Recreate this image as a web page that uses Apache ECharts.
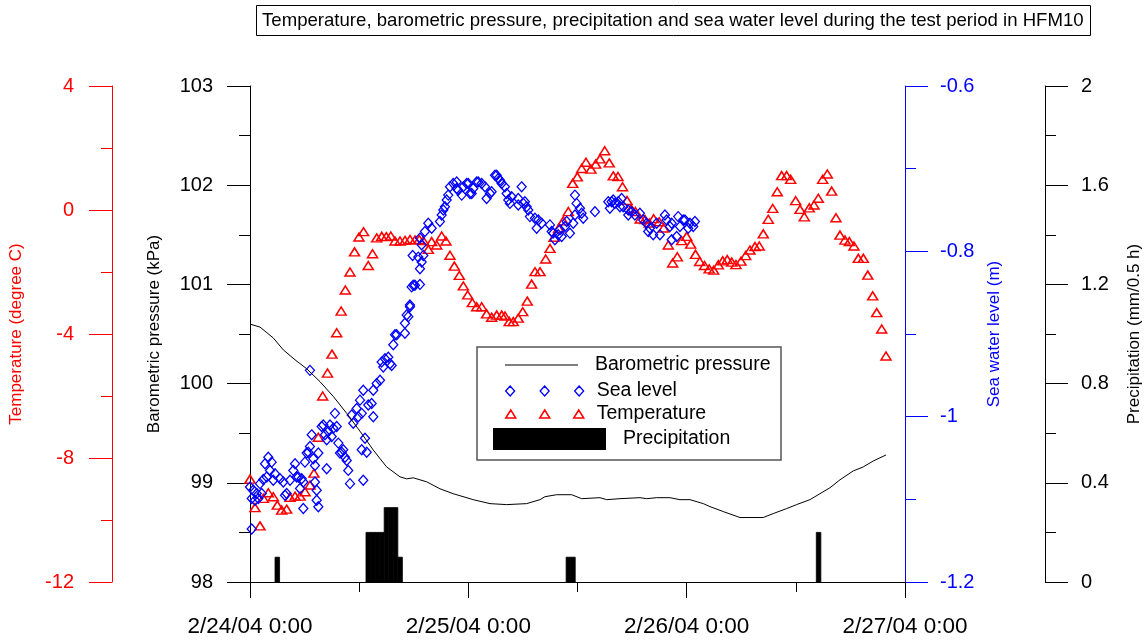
<!DOCTYPE html>
<html><head><meta charset="utf-8">
<script src="https://cdn.jsdelivr.net/npm/echarts@6/dist/echarts.min.js"></script>
<style>html,body{margin:0;padding:0;background:#fff}#c{width:1148px;height:640px}</style>
</head><body><div id="c"></div>
<script>
// x values are hours after 2/24/04 0:00
const xTickLabels = ['2/24/04 0:00', '2/25/04 0:00', '2/26/04 0:00', '2/27/04 0:00'];

// Barometric pressure (kPa): [hour, value]
const pressureData = [
  [0,100.60],[1.10,100.57],[2.56,100.46],[3.66,100.34],[4.95,100.24],[6.23,100.15],[7.69,100.02],
  [9.16,99.87],[10.63,99.70],[12.09,99.52],[13.55,99.33],[15.02,99.16],[16.49,99.06],[17.22,99.04],
  [17.95,99.05],[19.42,99.01],[20.88,98.94],[22.34,98.89],[24.54,98.83],[26.38,98.79],[28.21,98.78],
  [30.41,98.79],[31.87,98.83],[32.42,98.86],[33.71,98.88],[35.36,98.88],[36.46,98.84],[38.47,98.85],
  [39.21,98.83],[40.67,98.84],[42.86,98.85],[43.60,98.84],[44.70,98.85],[46.16,98.85],[47.26,98.83],
  [48.36,98.83],[49.83,98.79],[50.56,98.76],[52.02,98.71],[53.86,98.65],[56.42,98.65],[57.52,98.69],
  [58.99,98.74],[60.08,98.78],[61.55,98.83],[62.65,98.89],[63.75,98.95],[64.85,99.03],[66.31,99.12],
  [67.41,99.16],[68.51,99.22],[69.90,99.28]
];

// Sea water level (m): [hour, value]
const seaLevelData = [
  [0.00,-1.085],[0.19,-1.136],[0.19,-1.099],[0.36,-1.089],[0.55,-1.101],[0.74,-1.093],[0.91,-1.099],
  [1.10,-1.081],[1.29,-1.093],[1.46,-1.076],[1.65,-1.057],[1.84,-1.073],[2.01,-1.049],[2.20,-1.065],
  [2.38,-1.055],[2.56,-1.077],[2.75,-1.069],[3.30,-1.075],[3.66,-1.079],[3.85,-1.095],[4.03,-1.093],
  [4.40,-1.077],[4.76,-1.065],[4.95,-1.057],[5.13,-1.073],[5.31,-1.073],[5.50,-1.087],[5.68,-1.075],
  [5.86,-1.079],[5.86,-1.111],[6.04,-1.055],[6.23,-1.044],[6.41,-1.043],[6.59,-1.036],[6.59,-0.944],
  [6.78,-1.022],[6.96,-1.051],[7.14,-1.059],[7.14,-1.079],[7.33,-1.089],[7.33,-1.101],[7.51,-1.109],
  [7.51,-1.044],[7.88,-1.012],[8.06,-1.010],[8.24,-1.022],[8.43,-1.028],[8.43,-1.063],[8.61,-1.018],
  [8.79,-1.010],[8.98,-1.024],[9.16,-1.014],[9.34,-0.996],[9.53,-1.012],[9.71,-1.032],[9.89,-1.044],
  [10.08,-1.043],[10.25,-1.040],[10.44,-1.049],[10.63,-1.053],[10.80,-1.065],[10.99,-1.081],
  [11.18,-0.998],[11.35,-1.008],[11.73,-0.990],[11.90,-1.000],[12.09,-0.980],[12.28,-0.996],
  [12.28,-1.040],[12.45,-0.968],[12.45,-1.077],[12.64,-1.026],[12.83,-1.043],[13.00,-0.986],
  [13.37,-0.984],[13.55,-0.968],[13.55,-1.000],[13.92,-0.960],[14.29,-0.956],[14.47,-0.934],
  [14.65,-0.940],[14.84,-0.930],[15.20,-0.928],[15.39,-0.936],[15.57,-0.938],[15.75,-0.913],
  [15.94,-0.901],[16.12,-0.901],[17.03,-0.899],[17.03,-0.887],[17.22,-0.877],[17.40,-0.879],
  [17.58,-0.867],[17.58,-0.865],[17.77,-0.843],[17.95,-0.841],[18.13,-0.841],[18.68,-0.840],
  [17.88,-0.805],[18.50,-0.807],[18.68,-0.821],[18.87,-0.813],[19.05,-0.805],[18.87,-0.792],
  [18.68,-0.784],[19.23,-0.776],[19.60,-0.766],[19.97,-0.772],[20.88,-0.764],[21.07,-0.756],
  [21.25,-0.750],[21.43,-0.746],[21.62,-0.738],[21.79,-0.732],[21.98,-0.722],[22.34,-0.718],
  [22.72,-0.716],[22.72,-0.724],[22.89,-0.726],[23.27,-0.732],[23.44,-0.722],[23.82,-0.718],
  [23.99,-0.718],[24.18,-0.730],[24.37,-0.730],[24.54,-0.724],[24.92,-0.716],[25.09,-0.716],
  [25.47,-0.718],[25.83,-0.722],[26.01,-0.736],[26.38,-0.730],[26.56,-0.728],[26.93,-0.708],
  [27.11,-0.708],[27.29,-0.712],[27.48,-0.714],[27.66,-0.718],[28.02,-0.722],[28.21,-0.730],
  [28.39,-0.738],[28.57,-0.742],[28.76,-0.734],[29.49,-0.736],[29.49,-0.744],[29.86,-0.722],
  [30.04,-0.742],[30.22,-0.740],[30.41,-0.746],[30.59,-0.750],[30.77,-0.758],[31.32,-0.760],
  [31.51,-0.772],[31.69,-0.762],[32.06,-0.766],[32.97,-0.768],[33.16,-0.776],[33.33,-0.778],
  [33.52,-0.786],[33.88,-0.780],[34.07,-0.774],[34.26,-0.782],[34.62,-0.770],[34.81,-0.764],
  [35.17,-0.778],[35.53,-0.766],[35.72,-0.756],[35.90,-0.742],[35.72,-0.732],[36.27,-0.748],
  [36.45,-0.754],[36.63,-0.760],[37.92,-0.752],[39.38,-0.740],[39.56,-0.748],[39.75,-0.740],
  [39.93,-0.738],[40.12,-0.742],[40.48,-0.740],[40.67,-0.746],[40.85,-0.736],[41.03,-0.746],
  [41.58,-0.750],[41.58,-0.756],[41.95,-0.752],[42.31,-0.756],[42.86,-0.754],[43.22,-0.762],
  [43.60,-0.766],[43.77,-0.776],[43.96,-0.772],[44.32,-0.780],[44.70,-0.766],[45.06,-0.780],
  [45.61,-0.756],[45.80,-0.762],[46.16,-0.770],[46.35,-0.766],[46.35,-0.786],[46.90,-0.782],
  [47.07,-0.758],[47.26,-0.770],[47.62,-0.762],[47.81,-0.762],[48.17,-0.772],[48.36,-0.766],
  [48.72,-0.770],[48.91,-0.764]
];

// Temperature (degree C): [hour, value]
const temperatureData = [
  [0,-8.68],[0.55,-9.60],[1.10,-10.19],[1.46,-9.30],[2.01,-9.12],[2.56,-9.25],[3.00,-9.52],[3.48,-9.68],
  [4.03,-9.65],[4.40,-9.27],[4.95,-9.23],[5.50,-9.23],[6.05,-9.09],[6.60,-8.87],[7.03,-8.49],[7.51,-7.33],
  [7.99,-6.00],[8.52,-5.26],[9.01,-4.65],[9.53,-3.96],[10.02,-3.26],[10.48,-2.58],[10.99,-2.00],
  [11.49,-1.35],[11.98,-0.87],[12.48,-0.70],[13.00,-1.79],[13.47,-1.41],[13.93,-0.90],[14.48,-0.85],
  [14.98,-0.86],[15.48,-0.84],[15.94,-1.00],[16.49,-1.00],[17.04,-0.98],[17.59,-0.95],[18.14,-0.97],
  [18.61,-0.95],[19.05,-0.99],[19.60,-1.27],[19.97,-1.02],[20.52,-1.13],[21.07,-0.84],[21.54,-1.00],
  [21.98,-1.46],[22.46,-1.81],[23.01,-2.11],[23.45,-2.45],[23.93,-2.74],[24.44,-2.99],[24.92,-3.12],
  [25.47,-3.12],[26.01,-3.35],[26.57,-3.46],[27.12,-3.39],[27.67,-3.39],[28.03,-3.42],[28.50,-3.60],
  [28.94,-3.60],[29.49,-3.49],[29.98,-3.28],[30.48,-2.94],[30.96,-2.39],[31.33,-1.99],[31.88,-1.99],
  [32.50,-1.58],[32.98,-1.24],[33.42,-0.88],[33.93,-0.59],[34.44,-0.35],[34.99,-0.05],[35.47,0.86],
  [35.98,1.07],[36.46,1.34],[36.93,1.54],[37.48,1.32],[38.00,1.48],[38.47,1.65],[38.99,1.91],
  [39.49,1.52],[39.93,1.10],[40.45,1.08],[40.95,0.75],[41.44,0.31],[41.90,0.04],[42.37,-0.05],
  [42.90,-0.29],[43.42,-0.31],[43.89,-0.42],[44.37,-0.28],[44.98,-0.38],[45.47,-0.58],[45.98,-1.13],
  [46.46,-1.71],[46.97,-1.51],[47.45,-0.99],[48.00,-0.85],[48.44,-1.10],[48.97,-1.43],[49.43,-1.66],
  [49.96,-1.79],[50.47,-1.90],[50.97,-1.94],[51.48,-1.77],[51.96,-1.64],[52.46,-1.60],[52.95,-1.68],
  [53.42,-1.76],[53.97,-1.65],[54.49,-1.47],[54.96,-1.29],[55.51,-1.18],[55.98,-1.16],[56.42,-0.77],
  [56.97,-0.30],[57.46,0.05],[57.96,0.59],[58.44,1.11],[58.99,1.11],[59.43,0.99],[59.98,0.30],
  [60.46,0.02],[60.93,-0.22],[61.48,0.07],[62.00,0.16],[62.47,0.38],[62.95,0.99],[63.46,1.16],
  [63.94,0.61],[64.41,-0.25],[64.85,-0.81],[65.40,-0.97],[65.88,-1.02],[66.39,-1.16],[66.87,-1.56],
  [67.42,-1.56],[67.91,-2.10],[68.45,-2.77],[68.89,-3.31],[69.44,-3.84],[69.91,-4.71]
];

// Precipitation (mm/0.5 h): [bin centre hour, value]
const precipitationData = [
  [3.0,0.1],[13.0,0.2],[13.5,0.2],[14.0,0.2],[14.5,0.2],[15.0,0.3],[15.5,0.3],[16.0,0.3],[16.5,0.1],
  [35.0,0.1],[35.5,0.1],[62.5,0.2]
];
const precipBinHours = 0.5;

const FONT = '"Liberation Sans", Arial, Helvetica, sans-serif';
const RED = '#ff0000', BLUE = '#0000ff', BLACK = '#000000';
const fmt = v => String(+(+v).toFixed(2));

function yAx(o) {
  return {
    type: 'value', position: o.pos, offset: o.offset, min: o.min, max: o.max, interval: o.interval,
    name: o.name, nameLocation: 'middle', nameRotate: 90, nameGap: o.nameGap,
    nameTextStyle: {color: o.color, fontSize: 17, fontFamily: FONT},
    axisLine: {show: true, onZero: false, lineStyle: {color: o.color, width: 1}},
    axisTick: {show: true, length: 23, lineStyle: {color: o.color, width: 1}},
    minorTick: {show: true, splitNumber: 2, length: 11, lineStyle: {color: o.color, width: 1}},
    axisLabel: {color: o.color, fontSize: 20, fontFamily: FONT, margin: o.margin, formatter: fmt},
    splitLine: {show: false}, minorSplitLine: {show: false}
  };
}

const legendText = {fontSize: 19.5, color: BLACK, fontFamily: FONT, lineHeight: 22};
const diamondsIcon = 'path://M0,5L4.5,0L9,5L4.5,10Z M34.5,5L39,0L43.5,5L39,10Z M69,5L73.5,0L78,5L73.5,10Z';
const trianglesIcon = 'path://M0,8L5,0L10,8Z M34,8L39,0L44,8Z M68,8L73,0L78,8Z';

const chart = echarts.init(document.getElementById('c'), null, {renderer: 'canvas'});
chart.setOption({
  animation: false,
  backgroundColor: '#ffffff',
  title: {
    text: 'Temperature, barometric pressure, precipitation and sea water level during the test period in HFM10',
    left: 256, top: 5, padding: [5, 7, 5, 6], borderColor: BLACK, borderWidth: 1,
    textStyle: {fontSize: 18.6, fontWeight: 'normal', color: BLACK, fontFamily: FONT, lineHeight: 21}
  },
  grid: {left: 250, right: 243, top: 86, bottom: 58, containLabel: false, outerBoundsMode: 'none'},
  xAxis: {
    type: 'value', min: 0, max: 72, interval: 24,
    axisLine: {onZero: false, lineStyle: {color: BLACK, width: 1}},
    axisTick: {length: 16, lineStyle: {color: BLACK}},
    minorTick: {show: true, splitNumber: 2, length: 10, lineStyle: {color: BLACK}},
    axisLabel: {fontSize: 22.5, color: BLACK, fontFamily: FONT, margin: 33,
      formatter: v => xTickLabels[Math.round(v / 24)], showMinLabel: true, showMaxLabel: true},
    splitLine: {show: false}, minorSplitLine: {show: false}
  },
  yAxis: [
    yAx({pos: 'left', offset: 0, min: 98, max: 103, interval: 1, color: BLACK,
         name: 'Barometric pressure (kPa)', nameGap: 87, margin: 37}),
    yAx({pos: 'left', offset: 138, min: -12, max: 4, interval: 4, color: RED,
         name: 'Temperature (degree C)', nameGap: 87, margin: 38}),
    yAx({pos: 'right', offset: 0, min: -1.2, max: -0.6, interval: 0.2, color: BLUE,
         name: 'Sea water level (m)', nameGap: 81, margin: 35}),
    yAx({pos: 'right', offset: 140, min: 0, max: 2, interval: 0.4, color: BLACK,
         name: 'Precipitation (mm/0.5 h)', nameGap: 81, margin: 36})
  ],
  legend: [
    {data: ['Barometric pressure'], left: 505, top: 354, itemWidth: 73, itemHeight: 1.2, padding: 0,
     icon: 'rect', itemStyle: {color: BLACK, borderWidth: 0},
     selectedMode: false, textStyle: Object.assign({padding: [0, 0, 0, 12]}, legendText)},
    {data: ['Sea level'], left: 505, top: 380, itemWidth: 78, itemHeight: 10, padding: 0, icon: diamondsIcon,
     selectedMode: false, itemStyle: {color: 'rgba(0,0,0,0)', borderColor: BLUE, borderWidth: 1.3},
     textStyle: Object.assign({padding: [0, 0, 0, 8]}, legendText)},
    {data: ['Temperature'], left: 505, top: 403, itemWidth: 78, itemHeight: 8, padding: 0, icon: trianglesIcon,
     selectedMode: false, itemStyle: {color: 'rgba(0,0,0,0)', borderColor: RED, borderWidth: 1.5},
     textStyle: Object.assign({padding: [0, 0, 0, 8]}, legendText)},
    {data: ['Precipitation'], left: 493, top: 428, itemWidth: 113, itemHeight: 22, padding: 0, icon: 'rect',
     selectedMode: false, itemStyle: {color: BLACK, borderWidth: 0},
     textStyle: Object.assign({padding: [0, 0, 0, 12]}, legendText)}
  ],
  graphic: [{
    type: 'rect', z: 1,
    shape: {x: 477, y: 347, width: 304, height: 113},
    style: {fill: null, stroke: '#555555', lineWidth: 1.5}
  }],
  series: [
    {
      name: 'Precipitation', type: 'custom', yAxisIndex: 3, data: precipitationData,
      encode: {x: 0, y: 1},
      itemStyle: {color: BLACK},
      renderItem: (params, api) => {
        const h = api.value(0), v = api.value(1);
        const p0 = api.coord([h - precipBinHours / 2, v]);
        const p1 = api.coord([h + precipBinHours / 2, 0]);
        return {type: 'rect', shape: {x: p0[0], y: p0[1], width: p1[0] - p0[0], height: p1[1] - p0[1]},
                style: {fill: BLACK, stroke: BLACK, lineWidth: 0.8}};
      }
    },
    {
      name: 'Barometric pressure', type: 'line', yAxisIndex: 0, data: pressureData,
      symbol: 'none', showSymbol: false, smooth: false,
      lineStyle: {color: BLACK, width: 1}, itemStyle: {color: BLACK}
    },
    {
      name: 'Temperature', type: 'scatter', yAxisIndex: 1, data: temperatureData,
      symbol: 'triangle', symbolSize: [10, 8],
      itemStyle: {color: 'rgba(0,0,0,0)', borderColor: RED, borderWidth: 1.5, opacity: 1}
    },
    {
      name: 'Sea level', type: 'scatter', yAxisIndex: 2, data: seaLevelData,
      symbol: 'diamond', symbolSize: [9, 10],
      itemStyle: {color: 'rgba(0,0,0,0)', borderColor: BLUE, borderWidth: 1.3, opacity: 1}
    }
  ]
});
</script></body></html>
